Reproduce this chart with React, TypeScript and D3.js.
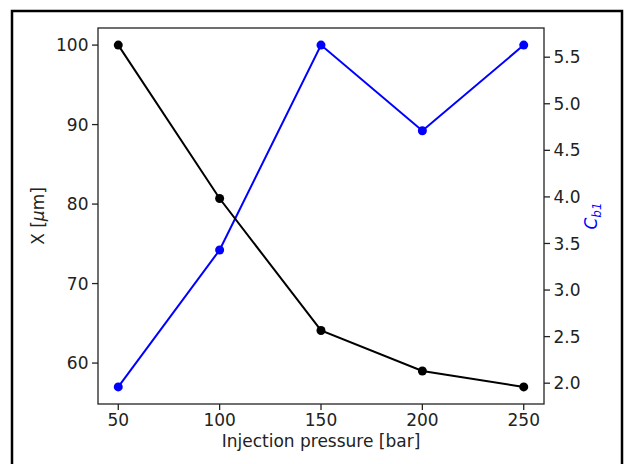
import React from "react";
import * as d3 from "d3";

// values
const pressures = [50, 100, 150, 200, 250];
const xSizes = [100, 80.7, 64.1, 59.0, 57.0];
const cb1Values = [1.96, 3.43, 5.63, 4.71, 5.63];

const xTicks = [50, 100, 150, 200, 250];
const leftTicks = [60, 70, 80, 90, 100];
const rightTicks = [2.0, 2.5, 3.0, 3.5, 4.0, 4.5, 5.0, 5.5];

const W = 625;
const H = 464;
const plot = { left: 98, right: 544, top: 28, bottom: 404 };
const FONT = "'DejaVu Sans', sans-serif";
const FS = 17;

// matplotlib style 5% margins
const padded = (vals: number[]): [number, number] => {
  const [lo, hi] = d3.extent(vals) as [number, number];
  const m = (hi - lo) * 0.05;
  return [lo - m, hi + m];
};

const App: React.FC = () => {
  const x = d3.scaleLinear().domain(padded(pressures)).range([plot.left, plot.right]);
  const yL = d3.scaleLinear().domain(padded(xSizes)).range([plot.bottom, plot.top]);
  const yR = d3.scaleLinear().domain(padded(cb1Values)).range([plot.bottom, plot.top]);

  const lineL = d3.line<number>().x((_, i) => x(pressures[i])).y(d => yL(d));
  const lineR = d3.line<number>().x((_, i) => x(pressures[i])).y(d => yR(d));

  const midY = (plot.top + plot.bottom) / 2;

  return (
    <svg
      width={W}
      height={H}
      style={{ position: "absolute", left: 0, top: 0, display: "block", background: "#fff" }}
      fontFamily={FONT}
    >
      {/* outer frame */}
      <rect x={12} y={11} width={610} height={480} fill="none" stroke="#000" strokeWidth={2.5} />

      {/* data */}
      <path d={lineR(cb1Values) || ""} fill="none" stroke="blue" strokeWidth={2} />
      {cb1Values.map((v, i) => (
        <circle key={"b" + i} cx={x(pressures[i])} cy={yR(v)} r={4.5} fill="blue" />
      ))}
      <path d={lineL(xSizes) || ""} fill="none" stroke="#000" strokeWidth={2} />
      {xSizes.map((v, i) => (
        <circle key={"k" + i} cx={x(pressures[i])} cy={yL(v)} r={4.5} fill="#000" />
      ))}

      {/* spines */}
      <rect
        x={plot.left}
        y={plot.top}
        width={plot.right - plot.left}
        height={plot.bottom - plot.top}
        fill="none"
        stroke="#222"
        strokeWidth={1.3}
      />

      {/* bottom axis */}
      {xTicks.map(t => (
        <g key={"xt" + t}>
          <line x1={x(t)} x2={x(t)} y1={plot.bottom} y2={plot.bottom + 6} stroke="#222" strokeWidth={1.3} />
          <text x={x(t)} y={plot.bottom + 22} textAnchor="middle" fontSize={FS} fill="#222">
            {t}
          </text>
        </g>
      ))}
      <text x={(plot.left + plot.right) / 2} y={447} textAnchor="middle" fontSize={FS} fill="#222">
        Injection pressure [bar]
      </text>

      {/* left axis */}
      {leftTicks.map(t => (
        <g key={"lt" + t}>
          <line x1={plot.left - 6} x2={plot.left} y1={yL(t)} y2={yL(t)} stroke="#222" strokeWidth={1.3} />
          <text x={plot.left - 9.5} y={yL(t)} dy="0.36em" textAnchor="end" fontSize={FS} fill="#222">
            {t}
          </text>
        </g>
      ))}
      <text
        transform={`translate(38,${midY}) rotate(-90)`}
        textAnchor="middle"
        dy="0.35em"
        fontSize={FS}
        fill="#222"
      >
        X [<tspan fontStyle="italic">μ</tspan>m]
      </text>

      {/* right axis */}
      {rightTicks.map(t => (
        <g key={"rt" + t}>
          <line x1={plot.right} x2={plot.right + 6} y1={yR(t)} y2={yR(t)} stroke="#222" strokeWidth={1.3} />
          <text x={plot.right + 9.5} y={yR(t)} dy="0.36em" textAnchor="start" fontSize={FS} fill="#222">
            {t.toFixed(1)}
          </text>
        </g>
      ))}
      <text
        transform={`translate(592,${midY}) rotate(-90)`}
        textAnchor="middle"
        dy="0.3em"
        fontSize={FS}
        fill="blue"
        fontStyle="italic"
      >
        C<tspan fontSize={FS * 0.7} dy="0.3em">b1</tspan>
      </text>
    </svg>
  );
};

export default App;
